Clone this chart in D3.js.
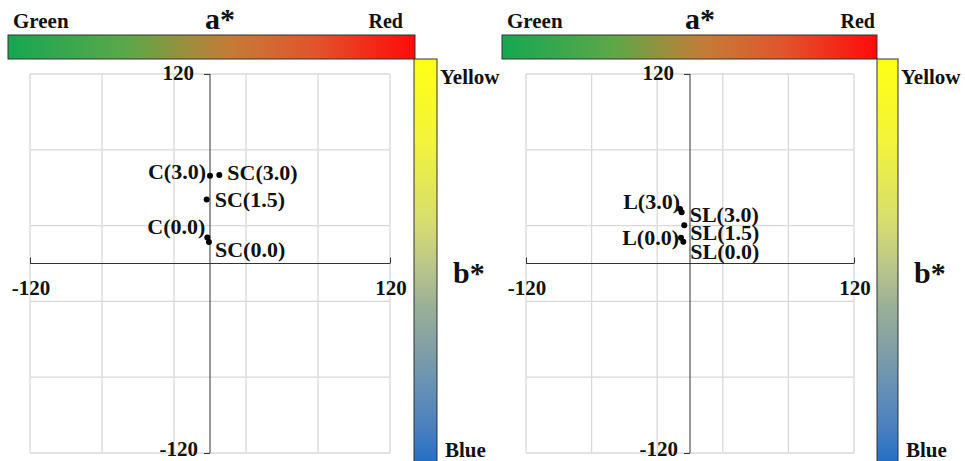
<!DOCTYPE html>
<html><head><meta charset="utf-8">
<script src="https://cdn.jsdelivr.net/npm/d3@7/dist/d3.min.js"></script>
<style>
html,body{margin:0;padding:0;background:#fff;}
svg{display:block;}
text{font-family:"Times New Roman","Liberation Serif",serif;font-weight:bold;fill:#111;}
</style></head><body>
<svg id="chart" width="965" height="461"></svg>
<script>
// ---- data ----
const categoriesLeft = ["C(3.0)", "SC(3.0)", "SC(1.5)", "C(0.0)", "SC(0.0)"];
const aLeft = [0, 6.2, -2.2, -1.8, -0.7];
const bLeft = [55.6, 56, 40.6, 16.4, 13.6];
const categoriesRight = ["L(3.0)", "SL(3.0)", "SL(1.5)", "L(0.0)", "SL(0.0)"];
const aRight = [-7.3, -6.1, -4.2, -6.6, -4.9];
const bRight = [34.5, 32.5, 24.3, 16.3, 13.7];
const axisDomain = [-120, 120];
const axisTickValues = [-120, 120];
const gridValues = [-120, -72, -24, 24, 72, 120];
const aStrings = ["Green", "a*", "Red"];
const bStrings = ["Yellow", "b*", "Blue"];

// label placement (pixel offsets, anchor) – styling only
const placeLeft = [[-4, -4, "end"], [8, -3, "start"], [8, 0, "start"], [-2, -11, "end"], [6, 7, "start"]];
const placeRight = [[0, -8, "end"], [8, 2, "start"], [6, 7, "start"], [-2, 0, "end"], [7, 10, "start"]];

const svg = d3.select("#chart");
const defs = svg.append("defs");
const gh = defs.append("linearGradient").attr("id", "gradA").attr("x1", "0").attr("x2", "1").attr("y1", "0").attr("y2", "0");
[[0, "#15a852"], [0.3, "#5ea748"], [0.45, "#a08c3c"], [0.55, "#c67a36"], [0.75, "#e2552c"], [1, "#ff0a0a"]]
  .forEach(s => gh.append("stop").attr("offset", s[0]).attr("stop-color", s[1]));
const gv = defs.append("linearGradient").attr("id", "gradB").attr("x1", "0").attr("x2", "0").attr("y1", "0").attr("y2", "1");
[[0, "#ffff14"], [0.2, "#f2f43a"], [0.4, "#d6dc70"], [0.5, "#bcc888"], [0.6, "#9cb096"], [0.7, "#83a0a4"], [0.8, "#6690b4"], [0.9, "#4a80c0"], [1, "#1c6cc6"]]
  .forEach(s => gv.append("stop").attr("offset", s[0]).attr("stop-color", s[1]));

function panel(cfg, names, aVals, bVals, place) {
  const g = svg.append("g");
  const x = d3.scaleLinear().domain(axisDomain).range([cfg.x0, cfg.x1]);
  const y = d3.scaleLinear().domain(axisDomain).range([cfg.y1, cfg.y0]);

  // gridlines
  g.selectAll(".gx").data(gridValues).join("line")
    .attr("x1", d => x(d)).attr("x2", d => x(d)).attr("y1", y(120)).attr("y2", y(-120))
    .attr("stroke", "#d9d9d9").attr("stroke-width", 1.3);
  g.selectAll(".gy").data(gridValues).join("line")
    .attr("y1", d => y(d)).attr("y2", d => y(d)).attr("x1", x(-120)).attr("x2", x(120))
    .attr("stroke", "#d9d9d9").attr("stroke-width", 1.3);

  // horizontal axis (a*)
  const ax = g.append("g").attr("transform", `translate(0,${y(0)})`)
    .call(d3.axisTop(x).tickValues(axisTickValues).tickSize(6).tickFormat(""));
  ax.select(".domain").attr("stroke", "#333").attr("d", `M${x(-120)},0H${x(120)}`);
  ax.selectAll(".tick line").attr("stroke", "#333");
  g.selectAll(".xl").data(axisTickValues).join("text")
    .attr("x", d => x(d) + 1).attr("y", y(0) + 24)
    .attr("text-anchor", "middle").attr("dominant-baseline", "central")
    .attr("font-size", 21).text(d => d);

  // vertical axis (b*)
  const ay = g.append("g").attr("transform", `translate(${x(0)},0)`)
    .call(d3.axisLeft(y).tickValues(axisTickValues).tickSize(6).tickFormat(""));
  ay.select(".domain").attr("stroke", "#333").attr("d", `M0,${y(120)}V${y(-120)}`);
  ay.selectAll(".tick line").attr("stroke", "#333");
  g.selectAll(".yl").data(axisTickValues).join("text")
    .attr("x", d => x(0) - (d > 0 ? 16 : 12)).attr("y", d => y(d) + (d > 0 ? -1 : -4))
    .attr("text-anchor", "end").attr("dominant-baseline", "central")
    .attr("font-size", 21).text(d => d);

  // points
  const pts = names.map((n, i) => ({ n, a: aVals[i], b: bVals[i], p: place[i] }));
  g.selectAll(".pt").data(pts).join("circle")
    .attr("cx", d => x(d.a)).attr("cy", d => y(d.b)).attr("r", 3).attr("fill", "#000");
  g.selectAll(".pl").data(pts).join("text")
    .attr("x", d => x(d.a) + d.p[0]).attr("y", d => y(d.b) + d.p[1])
    .attr("text-anchor", d => d.p[2]).attr("dominant-baseline", "central")
    .attr("font-size", 22).text(d => d.n);

  // a* color bar
  g.append("rect").attr("x", cfg.hb[0]).attr("y", 35).attr("width", cfg.hb[1] - cfg.hb[0]).attr("height", 24)
    .attr("fill", "url(#gradA)").attr("stroke", "#333").attr("stroke-width", 1);
  g.append("text").attr("x", cfg.hb[0] + 5).attr("y", 28).attr("font-size", 21).text(aStrings[0]);
  g.append("text").attr("x", cfg.aMid).attr("y", 29).attr("text-anchor", "middle").attr("font-size", 30).text(aStrings[1]);
  g.append("text").attr("x", cfg.redEnd).attr("y", 28).attr("text-anchor", "end").attr("font-size", 20).text(aStrings[2]);

  // b* color bar
  g.append("rect").attr("x", cfg.vb[0]).attr("y", 59).attr("width", cfg.vb[1] - cfg.vb[0]).attr("height", 410)
    .attr("fill", "url(#gradB)").attr("stroke", "#333").attr("stroke-width", 1);
  g.append("text").attr("x", cfg.vb[1] + 3).attr("y", 84).attr("font-size", 21).text(bStrings[0]);
  g.append("text").attr("x", cfg.vb[1] + 16).attr("y", 283).attr("font-size", 30).text(bStrings[1]);
  g.append("text").attr("x", cfg.vb[1] + 8).attr("y", 457).attr("font-size", 21).text(bStrings[2]);
}

panel({ x0: 30, x1: 390, y0: 74, y1: 453, hb: [8, 415], aMid: 220, redEnd: 403, vb: [414, 437] },
  categoriesLeft, aLeft, bLeft, placeLeft);
panel({ x0: 526, x1: 854, y0: 74, y1: 453, hb: [502, 877], aMid: 700, redEnd: 875, vb: [877, 898] },
  categoriesRight, aRight, bRight, placeRight);
</script>
</body></html>
